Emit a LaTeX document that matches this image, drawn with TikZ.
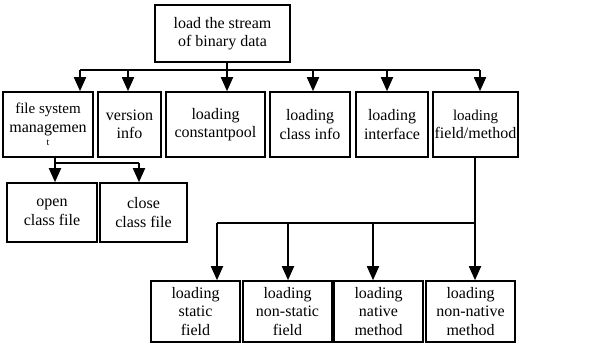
\documentclass[tikz,border=0pt]{standalone}
\usepackage{fontspec}
\setmainfont{Liberation Serif}
\usepackage{tikz}
\usetikzlibrary{arrows.meta, positioning}
\tikzset{
  block/.style={rectangle, draw=black, fill=white, align=center,
    inner sep=0pt, line width=1.6pt,
    font=\fontsize{16}{18.5}\selectfont},
  arrow/.style={-{Triangle[length=14pt,width=12pt]}, line width=1.8pt},
  line/.style={line width=1.8pt}
}
\begin{document}
\begin{tikzpicture}[x=1pt, y=-1pt]
  \useasboundingbox (0,0) rectangle (604,345);
  % ── root ──
  \node[block, minimum width=135pt, minimum height=57pt] (root) at (222.5,33.5)
    {load the stream\\of binary data};
  % ── first level ──
  \node[block, minimum width=90pt, minimum height=65pt] (fs) at (48,124.5)
    {\fontsize{15}{17}\selectfont file system\\managemen\\[-5pt]{\fontsize{10}{10}\selectfont t}};
  \node[block, minimum width=63pt, minimum height=65pt] (ver) at (129.5,124.5)
    {version\\info};
  \node[block, minimum width=99pt, minimum height=65pt] (cp) at (215.5,124.5)
    {loading\\constantpool};
  \node[block, minimum width=80pt, minimum height=65pt] (ci) at (310,124.5)
    {loading\\class info};
  \node[block, minimum width=72pt, minimum height=65pt] (itf) at (392,124.5)
    {loading\\interface};
  \node[block, minimum width=85pt, minimum height=65pt] (fm) at (475.5,124.5)
    {\fontsize{15}{18.5}\selectfont loading\\field/method};
  % ── class file ──
  \node[block, minimum width=90pt, minimum height=59pt] (open) at (52,212.5)
    {open\\class file};
  \node[block, minimum width=87pt, minimum height=59pt] (close) at (143.5,212.5)
    {close\\class file};
  % ── field / method ──
  \node[block, minimum width=89pt, minimum height=61pt] (sf) at (195.5,311.5)
    {loading\\static\\field};
  \node[block, minimum width=89pt, minimum height=61pt] (nsf) at (287.5,311.5)
    {loading\\non-static\\field};
  \node[block, minimum width=89pt, minimum height=61pt] (nm) at (378.5,311.5)
    {loading\\native\\method};
  \node[block, minimum width=89pt, minimum height=61pt] (nnm) at (470.5,311.5)
    {loading\\non-native\\method};

  % bus under root
  \coordinate (r0) at (227,70);
  \coordinate (b1) at (80,70);
  \coordinate (b2) at (128,70);
  \coordinate (b3) at (227,70);
  \coordinate (b4) at (313,70);
  \coordinate (b5) at (387,70);
  \coordinate (b6) at (480,70);
  \draw[line] (r0 |- root.south) -- (r0);
  \draw[line] (b1) -- (b6);
  \foreach \b/\n in {b1/fs, b2/ver, b3/cp, b4/ci, b5/itf, b6/fm}
    \draw[arrow] (\b) -- (\b |- \n.north);

  % file system branch
  \coordinate (c1) at (55,163);
  \coordinate (c2) at (139,163);
  \draw[line] (c1 |- fs.south) -- (c1) -- (c2);
  \foreach \b/\n in {c1/open, c2/close}
    \draw[arrow] (\b) -- (\b |- \n.north);

  % field/method branch
  \coordinate (d1) at (217,223);
  \coordinate (d2) at (288,223);
  \coordinate (d3) at (373,223);
  \coordinate (d4) at (475,223);
  \draw[line] (d4 |- fm.south) -- (d4) -- (d1);
  \foreach \b/\n in {d1/sf, d2/nsf, d3/nm, d4/nnm}
    \draw[arrow] (\b) -- (\b |- \n.north);
\end{tikzpicture}
\end{document}
